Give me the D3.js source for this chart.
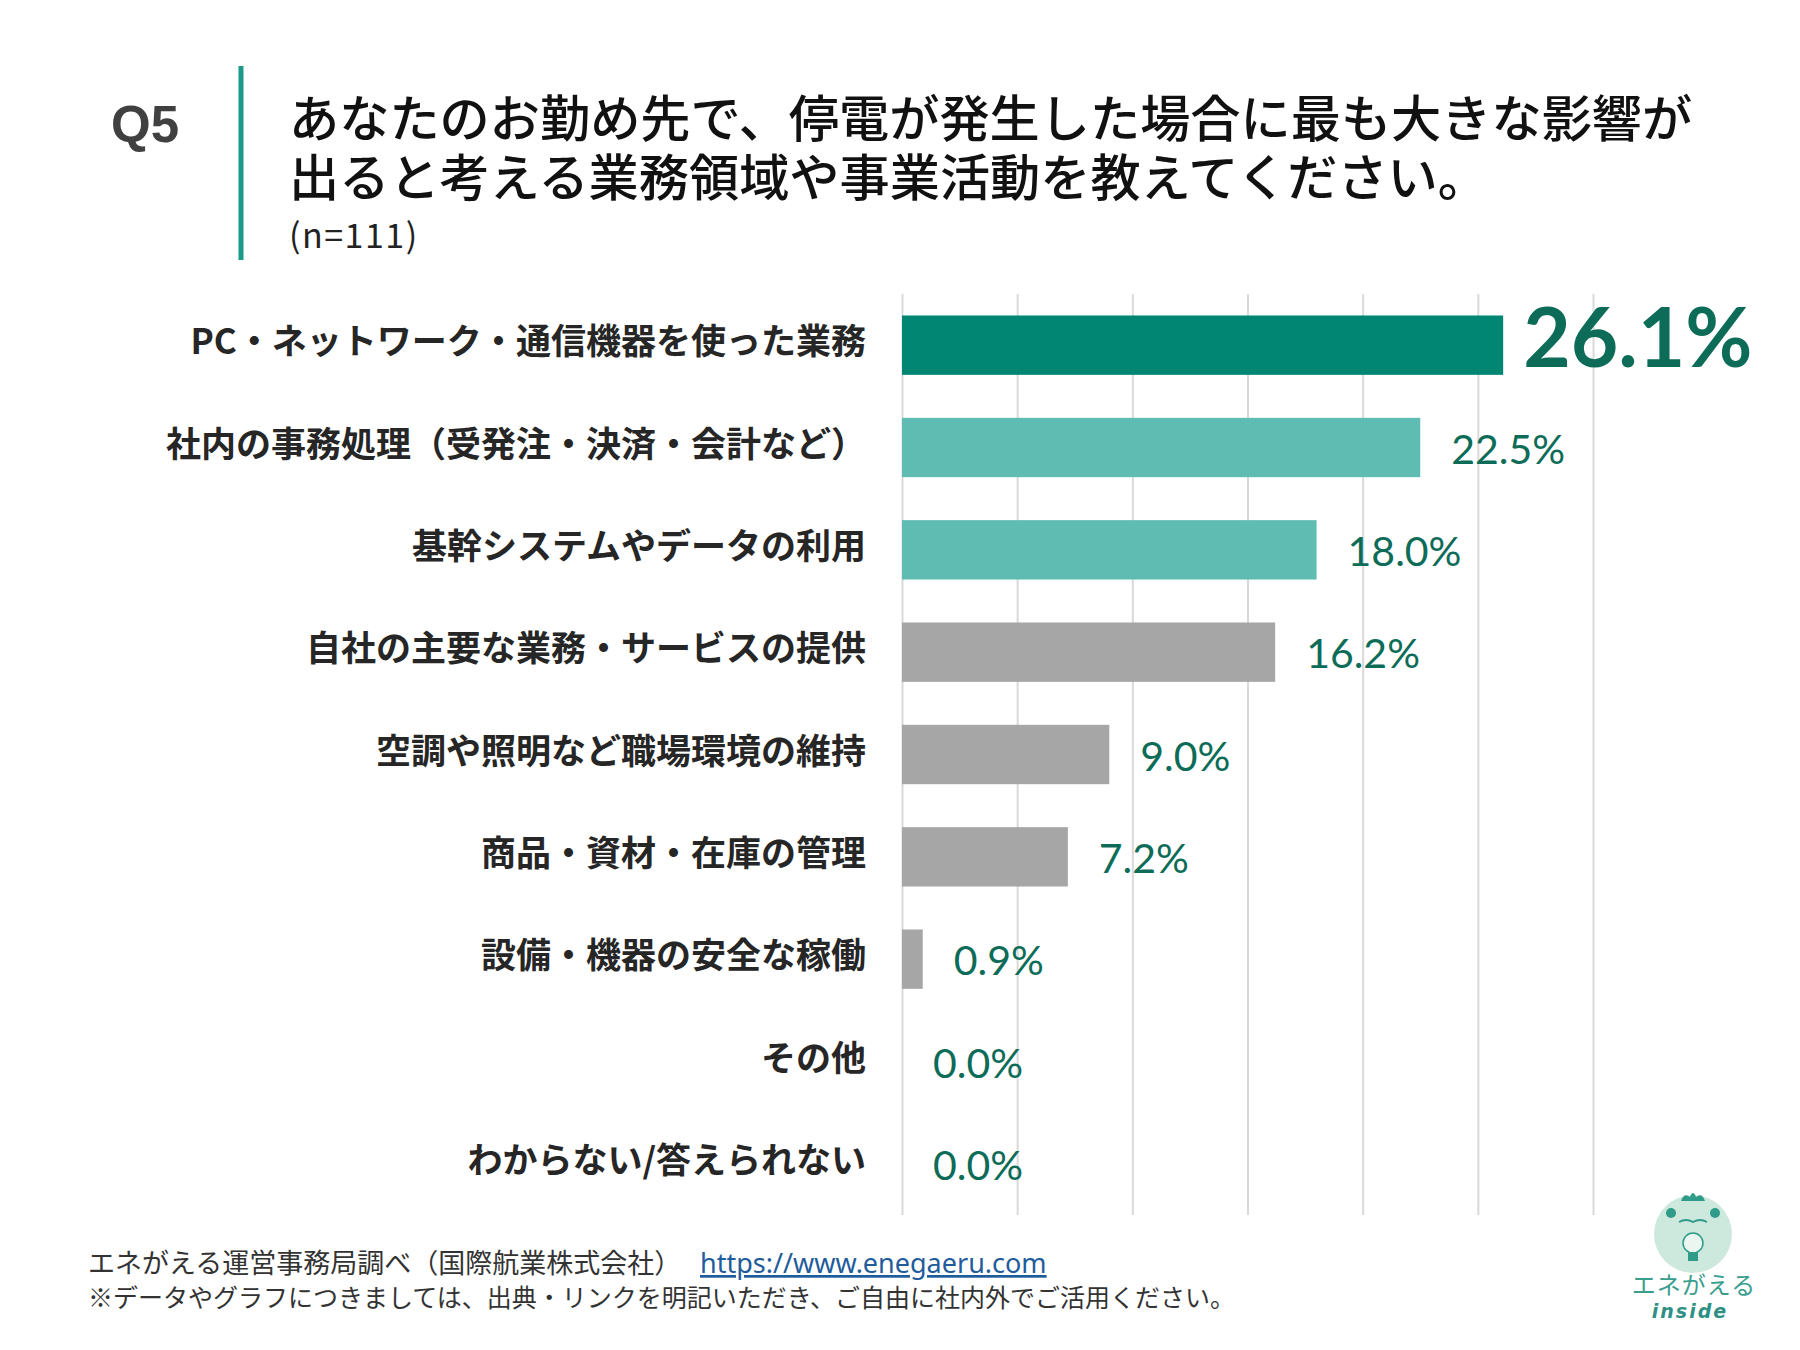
<!DOCTYPE html>
<html>
<head>
<meta charset="utf-8">
<script src="https://cdn.jsdelivr.net/npm/d3@7"></script>
<style>
  body { margin: 0; background: #fff; }
  svg { display: block; }
</style>
</head>
<body>
<div id="chart"></div>
<script>
// données
const categories = [
  "PC・ネットワーク・通信機器を使った業務",
  "社内の事務処理（受発注・決済・会計など）",
  "基幹システムやデータの利用",
  "自社の主要な業務・サービスの提供",
  "空調や照明など職場環境の維持",
  "商品・資材・在庫の管理",
  "設備・機器の安全な稼働",
  "その他",
  "わからない/答えられない"
];
const values = [26.1, 22.5, 18.0, 16.2, 9.0, 7.2, 0.9, 0.0, 0.0];
const xTicks = [0, 5, 10, 15, 20, 25, 30];
const titleLines = [
  "あなたのお勤め先で、停電が発生した場合に最も大きな影響が",
  "出ると考える業務領域や事業活動を教えてください。"
];

const W = 1800, H = 1350;
const plot = {left: 902, right: 1593, top: 294, bottom: 1215};

const svg = d3.select("#chart").append("svg")
  .attr("width", W)
  .attr("height", H)
  .attr("viewBox", `0 0 ${W} ${H}`);

const jp = "'Noto Sans CJK JP', 'Noto Sans', sans-serif";
const num = "Lato, 'Open Sans', sans-serif";

// en-tête
svg.append("text")
  .attr("x", 111).attr("y", 142)
  .attr("font-family", "'Liberation Sans', Arial, sans-serif")
  .attr("font-weight", 700)
  .attr("font-size", 51)
  .attr("fill", "#404040")
  .text("Q5");

svg.append("line")
  .attr("x1", 241).attr("x2", 241)
  .attr("y1", 66).attr("y2", 260)
  .attr("stroke", "#1b9a89")
  .attr("stroke-width", 5);

svg.selectAll(".title")
  .data(titleLines)
  .enter().append("text")
  .attr("class", "title")
  .attr("x", 289)
  .attr("y", (d, i) => 137 + i * 59)
  .attr("font-family", jp)
  .attr("font-weight", 500)
  .attr("font-size", 50.2)
  .attr("fill", "#111")
  .text(d => d);

svg.append("text")
  .attr("x", 289).attr("y", 248)
  .attr("font-family", jp)
  .attr("font-size", 34)
  .attr("letter-spacing", 1.5)
  .attr("fill", "#222")
  .text("(n=111)");

// échelles
const x = d3.scaleLinear()
  .domain([0, 30])
  .range([plot.left, plot.right]);

const y = d3.scaleBand()
  .domain(categories)
  .range([plot.top, plot.bottom])
  .paddingInner(0.42)
  .paddingOuter(0.21);

// grille verticale
svg.append("g")
  .attr("transform", `translate(0,${plot.bottom})`)
  .call(d3.axisBottom(x).tickValues(xTicks).tickSize(-(plot.bottom - plot.top)).tickFormat(""))
  .call(g => g.select(".domain").remove())
  .call(g => g.selectAll(".tick line").attr("stroke", "#d9d9d9").attr("stroke-width", 2));

// libellés des catégories
svg.append("g")
  .attr("transform", `translate(${plot.left},0)`)
  .call(d3.axisLeft(y).tickSize(0).tickPadding(36))
  .call(g => g.select(".domain").remove())
  .call(g => g.selectAll(".tick text")
    .attr("font-family", jp)
    .attr("font-weight", 700)
    .attr("font-size", 35)
    .attr("fill", "#262626")
    .attr("dy", "0.26em"));

const barColor = (d, i) => i === 0 ? "#008673" : (i < 3 ? "#5ebcb2" : "#a6a6a6");

svg.selectAll(".bar")
  .data(values)
  .enter().append("rect")
  .attr("class", "bar")
  .attr("x", x(0))
  .attr("y", (d, i) => y(categories[i]))
  .attr("width", d => x(d) - x(0))
  .attr("height", y.bandwidth())
  .attr("fill", barColor);

// étiquettes de valeur
svg.selectAll(".val")
  .data(values)
  .enter().append("text")
  .attr("class", "val")
  .attr("x", (d, i) => x(d) + (i === 0 ? 20 : 31))
  .attr("y", (d, i) => y(categories[i]) + y.bandwidth() / 2 + (i === 0 ? 22 : 16))
  .attr("font-family", num)
  .attr("font-weight", (d, i) => i === 0 ? 700 : 400)
  .attr("font-size", (d, i) => i === 0 ? 82 : 41)
  .attr("fill", "#0d6c58")
  .text(d => d.toFixed(1) + "%");

// pied de page
svg.append("text")
  .attr("x", 88).attr("y", 1273)
  .attr("font-family", jp)
  .attr("font-size", 27)
  .attr("fill", "#333")
  .text("エネがえる運営事務局調べ（国際航業株式会社）");

svg.append("text")
  .attr("x", 700).attr("y", 1273)
  .attr("font-family", "'Noto Sans', sans-serif")
  .attr("font-size", 27)
  .attr("fill", "#1f5c9c")
  .attr("text-decoration", "underline")
  .text("https://www.enegaeru.com");

svg.append("text")
  .attr("x", 88).attr("y", 1307)
  .attr("font-family", jp)
  .attr("font-size", 25)
  .attr("fill", "#333")
  .text("※データやグラフにつきましては、出典・リンクを明記いただき、ご自由に社内外でご活用ください。");

// logo
const teal = "#2e9c89";
const logo = svg.append("g").attr("transform", "translate(1693,1234)");
logo.append("circle").attr("r", 39).attr("fill", "#cde8dd");
logo.append("path")
  .attr("d", "M-12,-33 Q-9,-42 -3,-37 Q0,-45 3,-37 Q9,-42 12,-33 Z")
  .attr("fill", teal);
logo.append("circle").attr("cx", -22).attr("cy", -21).attr("r", 5).attr("fill", teal);
logo.append("circle").attr("cx", 22).attr("cy", -21).attr("r", 5).attr("fill", teal);
logo.append("path")
  .attr("d", "M-14,-12 Q-7,-16 0,-12 Q7,-16 14,-12")
  .attr("fill", "none").attr("stroke", teal).attr("stroke-width", 2);
logo.append("circle").attr("cx", 0).attr("cy", 9).attr("r", 10)
  .attr("fill", "#fff").attr("fill-opacity", 0.6).attr("stroke", teal).attr("stroke-width", 1.5);
logo.append("rect").attr("x", -5).attr("y", 18).attr("width", 10).attr("height", 9).attr("fill", teal);

svg.append("text")
  .attr("x", 1694).attr("y", 1294)
  .attr("text-anchor", "middle")
  .attr("font-family", jp)
  .attr("font-size", 24)
  .attr("fill", "#3a9e8e")
  .attr("letter-spacing", 1)
  .text("エネがえる");

svg.append("text")
  .attr("x", 1690).attr("y", 1318)
  .attr("text-anchor", "middle")
  .attr("font-family", "'DejaVu Sans', sans-serif")
  .attr("font-style", "italic")
  .attr("font-weight", 700)
  .attr("font-size", 19)
  .attr("letter-spacing", 2)
  .attr("fill", "#2e8f84")
  .text("inside");
</script>
</body>
</html>
